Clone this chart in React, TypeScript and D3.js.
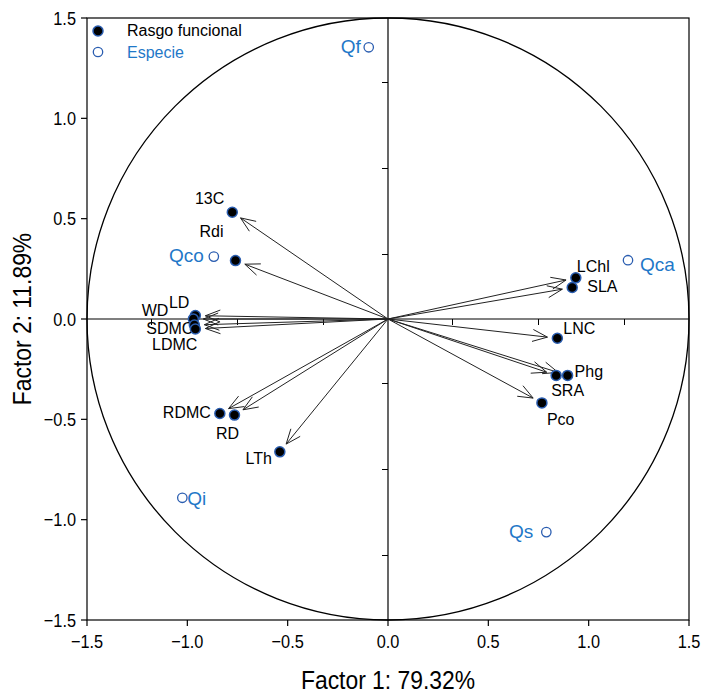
import React from 'react'
import * as d3 from 'd3'

// rasgos funcionales (factor 1, factor 2)
const traitNames = ['13C', 'Rdi', 'LD', 'WD', 'SDMC', 'LDMC', 'RDMC', 'RD', 'LTh', 'LChl', 'SLA', 'LNC', 'Phg', 'SRA', 'Pco']
const traitF1 = [-0.776, -0.76, -0.96, -0.97, -0.965, -0.96, -0.838, -0.765, -0.539, 0.936, 0.918, 0.844, 0.895, 0.838, 0.767]
const traitF2 = [0.532, 0.291, 0.017, 0.0, -0.03, -0.05, -0.471, -0.479, -0.662, 0.205, 0.157, -0.096, -0.281, -0.281, -0.418]

// especies
const speciesNames = ['Qf', 'Qco', 'Qca', 'Qi', 'Qs']
const speciesF1 = [-0.096, -0.868, 1.196, -1.025, 0.789]
const speciesF2 = [1.354, 0.311, 0.293, -0.891, -1.062]

const axisTicks = [-1.5, -1.0, -0.5, 0.0, 0.5, 1.0, 1.5]
const innerTicks = [-2.75, -1.75, -0.75, 0.75, 1.75, 2.75]
const circleRadius = 1.5

// label placement (px offset from the point)
const labelPos: Record<string, [string, number, number]> = {
    '13C': ['end', -8, -8],
    Rdi: ['end', -12, -24],
    LD: ['end', -6, -8],
    WD: ['end', -25, -3],
    SDMC: ['end', -1, 9],
    LDMC: ['end', 2, 21],
    RDMC: ['end', -9, 4],
    RD: ['middle', -7, 24],
    LTh: ['end', -8, 12],
    LChl: ['start', 1, -6],
    SLA: ['start', 15, 5],
    LNC: ['start', 6, -4],
    Phg: ['start', 7, 2],
    SRA: ['start', -5, 21],
    Pco: ['start', 5, 22],
    Qf: ['end', -8, 6],
    Qco: ['end', -10, 5],
    Qca: ['start', 12, 11],
    Qi: ['start', 5, 7],
    Qs: ['end', -13, 6],
}

const blue = '#1f78c8'
const dotStroke = '#2a5db0'
const font = 'Liberation Sans, Arial, sans-serif'
const narrowScale = 0.86

const App = () => {
    const width = 702,
        height = 693
    const left = 87, right = 689, top = 18, bottom = 620

    const x = d3.scaleLinear().domain([-1.5, 1.5]).range([left, right])
    const y = d3.scaleLinear().domain([-1.5, 1.5]).range([bottom, top])
    // secondary scale used by the inner (zero) axes
    const xi = d3.scaleLinear().domain([-3.5, 3.5]).range([left, right])
    const yi = d3.scaleLinear().domain([-3.5, 3.5]).range([bottom, top])

    const x0 = x(0), y0 = y(0)

    const traits = traitNames.map((n, i) => ({ name: n, px: x(traitF1[i]), py: y(traitF2[i]) }))
    const species = speciesNames.map((n, i) => ({ name: n, px: x(speciesF1[i]), py: y(speciesF2[i]) }))

    const circlePath = d3.path()
    circlePath.arc(x0, y0, x(circleRadius) - x0, 0, Math.PI * 2)

    // arrows from origin, stopping a bit short of the dot
    const arrows = traits.map(t => {
        const dx = t.px - x0, dy = t.py - y0
        const len = Math.sqrt(dx * dx + dy * dy)
        const ux = dx / len, uy = dy / len
        const tx = x0 + ux * (len - 10), ty = y0 + uy * (len - 10)
        const head = 16, ang = (22 * Math.PI) / 180
        const bx = -ux, by = -uy
        const b1 = [tx + head * (bx * Math.cos(ang) - by * Math.sin(ang)), ty + head * (bx * Math.sin(ang) + by * Math.cos(ang))]
        const b2 = [tx + head * (bx * Math.cos(-ang) - by * Math.sin(-ang)), ty + head * (bx * Math.sin(-ang) + by * Math.cos(-ang))]
        const line = d3.line()
        return {
            name: t.name,
            shaft: line([[x0, y0], [tx, ty]]),
            head: line([b1 as [number, number], [tx, ty], b2 as [number, number]]),
        }
    })

    const fmt = d3.format('.1f')

    return (
        <svg width={width} height={height} style={{ position: 'absolute', left: 0, top: 0, background: '#fff' }}>
            <rect x={0} y={0} width={width} height={height} fill="#fff" />
            {/* frame */}
            <rect x={left} y={top} width={right - left} height={bottom - top} fill="none" stroke="#000" strokeWidth={1.2} />

            {/* zero axes */}
            <line x1={left} x2={right} y1={y0} y2={y0} stroke="#000" strokeWidth={1.2} />
            <line x1={x0} x2={x0} y1={top} y2={bottom} stroke="#000" strokeWidth={1.2} />
            {innerTicks.map(t => (
                <line key={'ih' + t} x1={xi(t)} x2={xi(t)} y1={y0} y2={y0 + 6} stroke="#000" strokeWidth={1} />
            ))}
            {innerTicks.map(t => (
                <line key={'iv' + t} x1={x0 - 6} x2={x0} y1={yi(t)} y2={yi(t)} stroke="#000" strokeWidth={1} />
            ))}

            {/* circle */}
            <path d={circlePath.toString()} fill="none" stroke="#000" strokeWidth={1.3} />

            {/* axes ticks */}
            {axisTicks.map(t => (
                <g key={'xt' + t}>
                    <line x1={x(t)} x2={x(t)} y1={bottom} y2={bottom + 6} stroke="#000" strokeWidth={1.2} />
                    <text transform={`translate(${x(t)},648) scale(${narrowScale},1)`} textAnchor="middle" fontSize={19} fontFamily={font} fill="#000">
                        {fmt(t)}
                    </text>
                </g>
            ))}
            {axisTicks.map(t => (
                <g key={'yt' + t}>
                    <line x1={left - 6} x2={left} y1={y(t)} y2={y(t)} stroke="#000" strokeWidth={1.2} />
                    <text transform={`translate(76,${y(t) + 6.5}) scale(${narrowScale},1)`} textAnchor="end" fontSize={19} fontFamily={font} fill="#000">
                        {fmt(t)}
                    </text>
                </g>
            ))}

            {/* axis titles */}
            <text transform={`translate(${x0},689) scale(0.88,1)`} textAnchor="middle" fontSize={26} fontFamily={font} fill="#000">
                Factor 1: 79.32%
            </text>
            <text transform={`translate(31,${y0}) rotate(-90) scale(0.88,1)`} textAnchor="middle" fontSize={26} fontFamily={font} fill="#000">
                Factor 2: 11.89%
            </text>

            {/* arrows */}
            {arrows.map(a => (
                <g key={'a' + a.name} fill="none" stroke="#222" strokeWidth={1}>
                    <path d={a.shaft as string} />
                    <path d={a.head as string} />
                </g>
            ))}

            {/* labels */}
            {traits.map(t => {
                const [anchor, dx, dy] = labelPos[t.name]
                return (
                    <text key={'tl' + t.name} x={t.px + dx} y={t.py + dy} textAnchor={anchor as any} fontSize={16} fontFamily={font} fill="#000">
                        {t.name}
                    </text>
                )
            })}
            {species.map(s => {
                const [anchor, dx, dy] = labelPos[s.name]
                return (
                    <text key={'sl' + s.name} x={s.px + dx} y={s.py + dy} textAnchor={anchor as any} fontSize={19} fontFamily={font} fill={blue}>
                        {s.name}
                    </text>
                )
            })}

            {/* points */}
            {traits.map(t => (
                <circle key={'tp' + t.name} cx={t.px} cy={t.py} r={5} fill="#000" stroke={dotStroke} strokeWidth={1.5} />
            ))}
            {species.map(s => (
                <circle key={'sp' + s.name} cx={s.px} cy={s.py} r={4.7} fill="#fff" stroke={dotStroke} strokeWidth={1.3} />
            ))}

            {/* legend */}
            <circle cx={98} cy={31} r={5} fill="#000" stroke={dotStroke} strokeWidth={1.5} />
            <text x={127} y={36} fontSize={16} fontFamily={font} fill="#000">Rasgo funcional</text>
            <circle cx={98} cy={52} r={4.7} fill="#fff" stroke={dotStroke} strokeWidth={1.3} />
            <text x={127} y={58} fontSize={16} fontFamily={font} fill={blue}>Especie</text>
        </svg>
    )
}

export default App
